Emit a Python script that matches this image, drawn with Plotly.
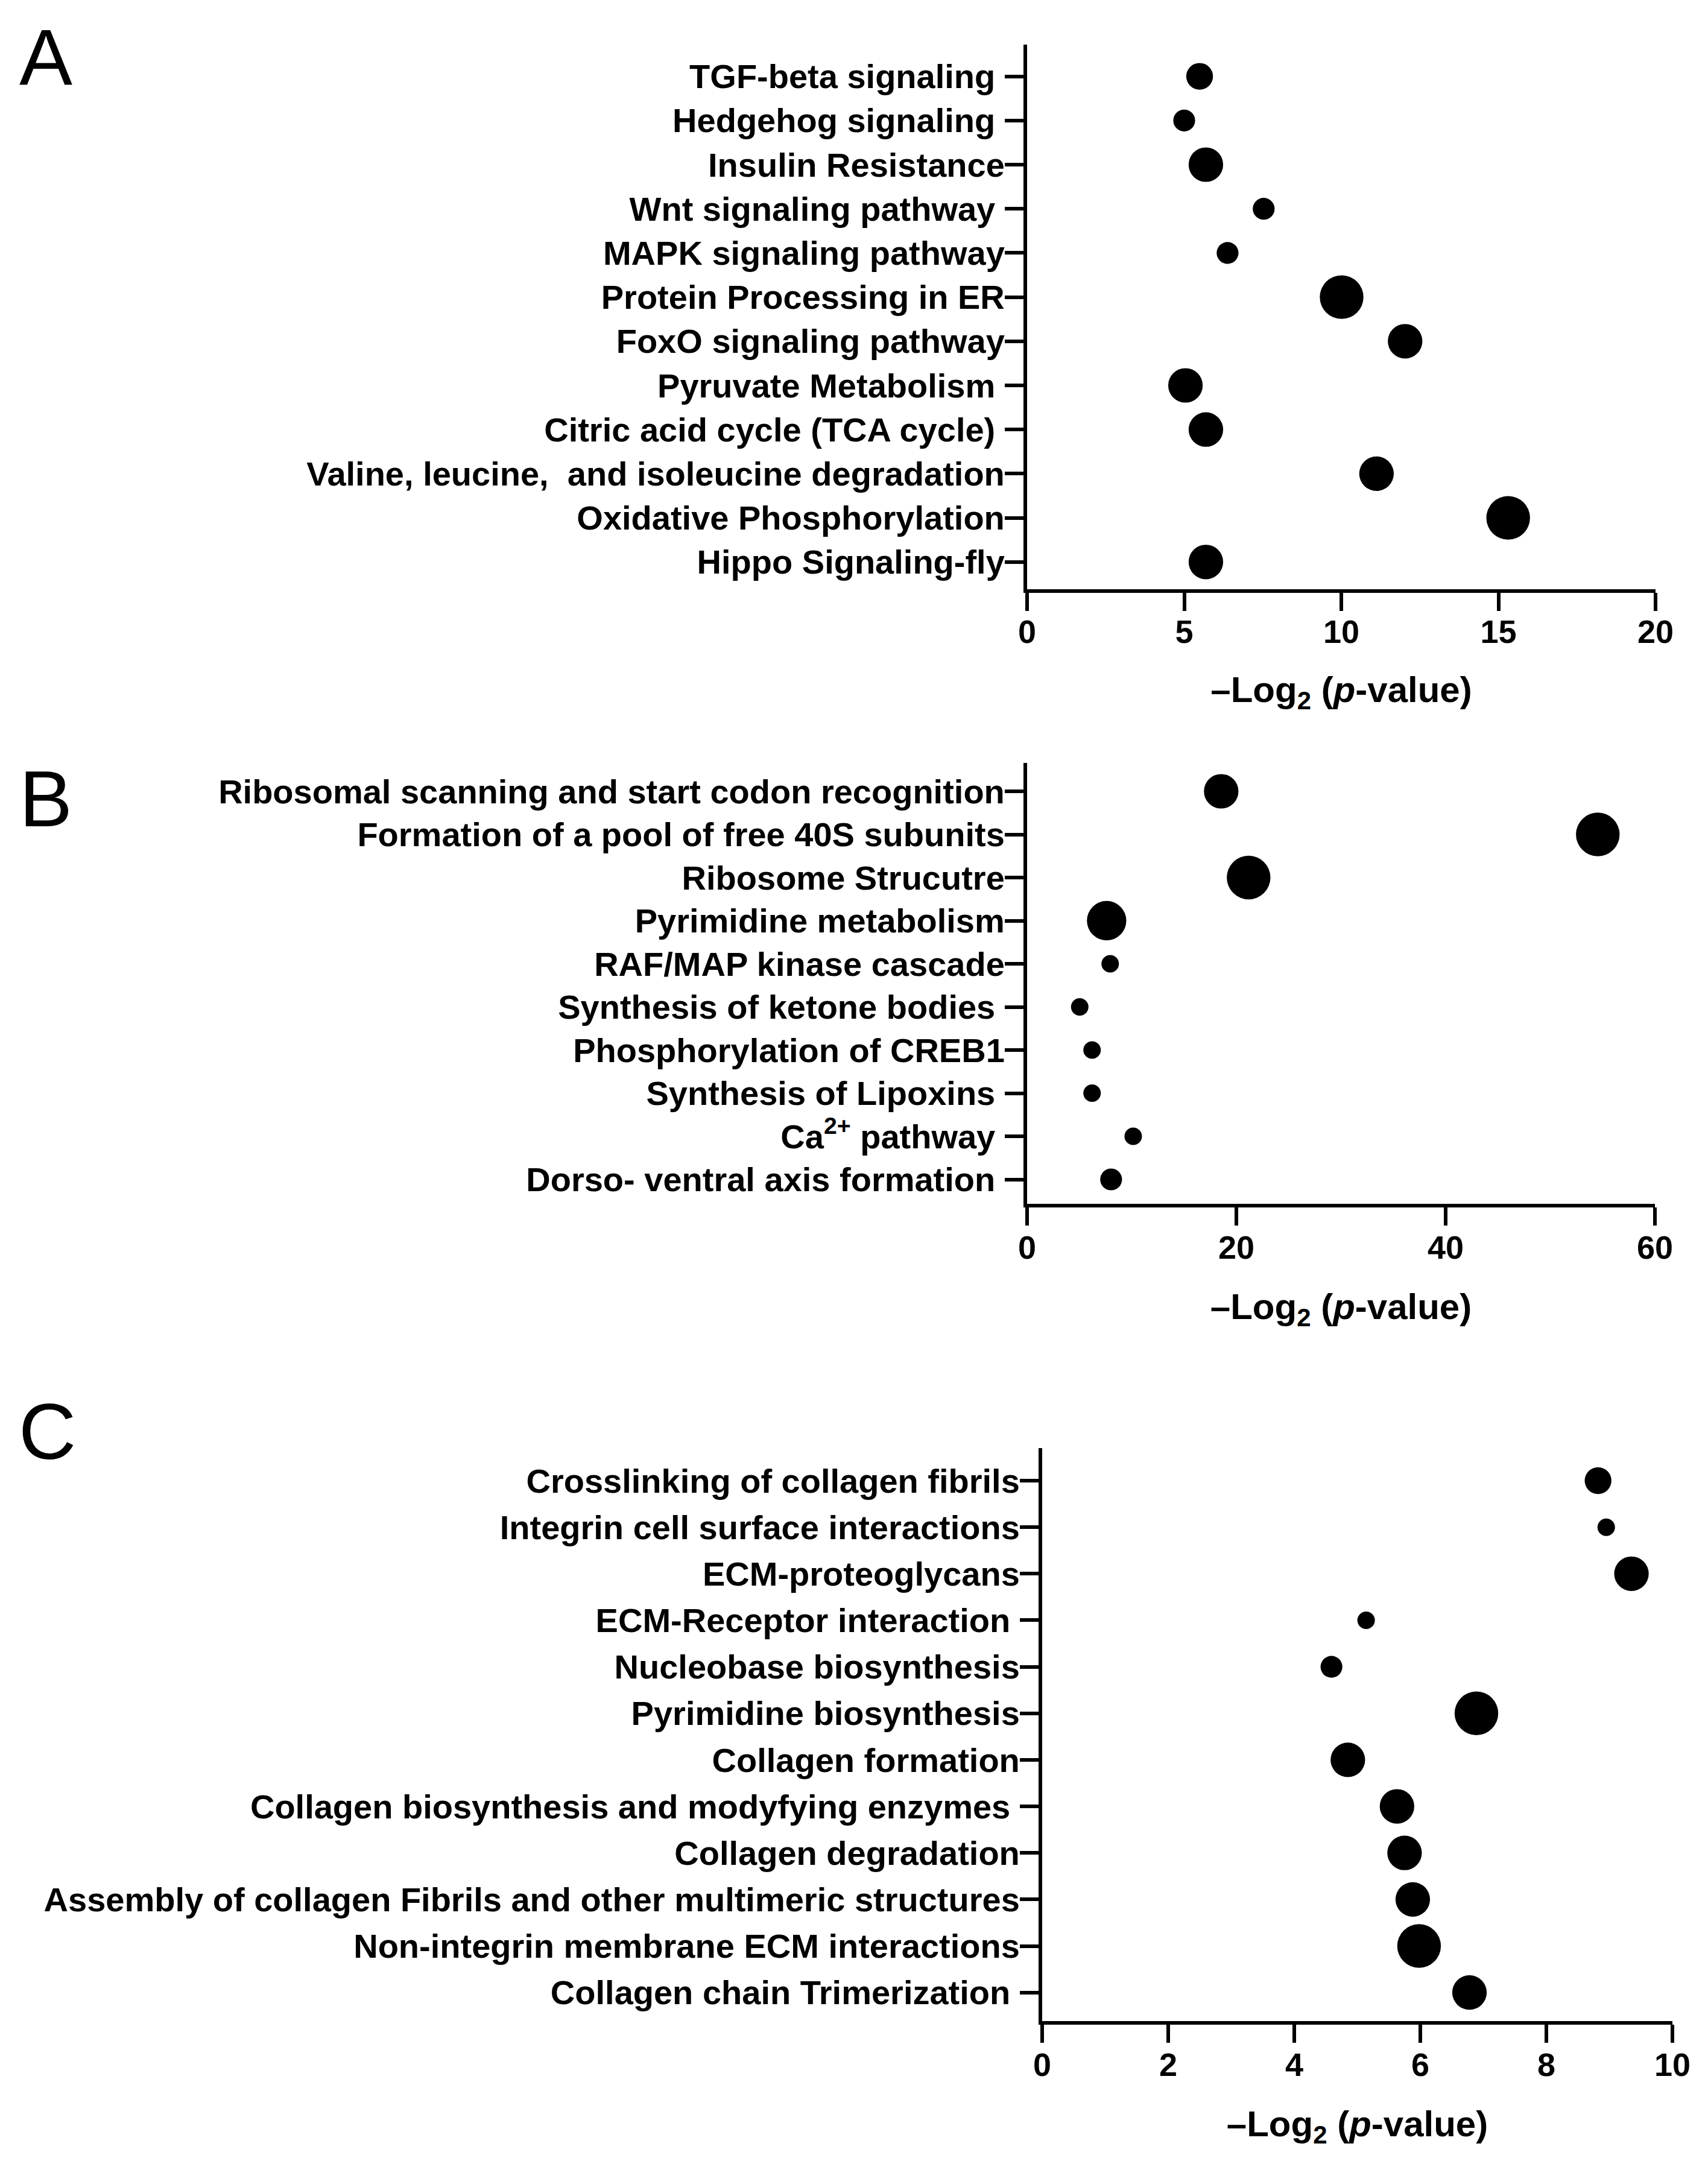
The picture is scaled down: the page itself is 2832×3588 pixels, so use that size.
import numpy as np
import plotly.graph_objects as go

W, H = 2832, 3588

# ---------------- data ----------------
a_pathways = ["TGF-beta signaling\u00a0", "Hedgehog signaling\u00a0", "Insulin Resistance",
              "Wnt signaling pathway\u00a0", "MAPK signaling pathway", "Protein Processing in ER",
              "FoxO signaling pathway", "Pyruvate Metabolism\u00a0", "Citric acid cycle (TCA cycle)\u00a0",
              "Valine, leucine,\u00a0 and isoleucine degradation", "Oxidative Phosphorylation",
              "Hippo Signaling-fly"]
a_values = [5.49, 5.00, 5.69, 7.53, 6.38, 10.01, 12.03, 5.04, 5.69, 11.12, 15.31, 5.69]
a_counts = [3, 2, 5, 2, 2, 8, 5, 5, 5, 5, 8, 5]

b_pathways = ["Ribosomal scanning and start codon recognition", "Formation of a pool of free 40S subunits",
              "Ribosome Strucutre", "Pyrimidine metabolism", "RAF/MAP kinase cascade",
              "Synthesis of ketone bodies\u00a0", "Phosphorylation of CREB1", "Synthesis of Lipoxins\u00a0",
              "Ca<sup>2+</sup> pathway\u00a0", "Dorso- ventral axis formation\u00a0"]
b_values = [18.55, 54.54, 21.17, 7.60, 7.94, 5.03, 6.21, 6.21, 10.14, 8.03]
b_counts = [5, 8, 8, 6.5, 1, 1, 1, 1, 1, 2]

c_pathways = ["Crosslinking of collagen fibrils", "Integrin cell surface interactions", "ECM-proteoglycans",
              "ECM-Receptor interaction\u00a0", "Nucleobase biosynthesis", "Pyrimidine biosynthesis",
              "Collagen formation", "Collagen biosynthesis and modyfying enzymes\u00a0",
              "Collagen degradation", "Assembly of collagen Fibrils and other multimeric structures",
              "Non-integrin membrane ECM interactions", "Collagen chain Trimerization\u00a0"]
c_values = [8.82, 8.95, 9.35, 5.14, 4.59, 6.89, 4.85, 5.63, 5.75, 5.88, 5.98, 6.78]
c_counts = [3, 1, 5, 1, 2, 8, 5, 5, 5, 5, 8, 5]

x_ranges = [[0, 20], [0, 60], [0, 10]]
x_dticks = [5, 20, 2]
panel_letters = ["A", "B", "C"]
x_title = "\u2013Log<sub>2</sub> (<i>p</i>-value)"

# ---------------- layout geometry (pixels, page coordinates) ----------------
PAGE_MARGIN = 8  # default body margin of the html page
# x_left, x_right, y_top, x-axis line y, first tick y, tick spacing
geom = [
    (1703, 2745, 74, 980, 126.6, 73.2),
    (1703, 2744, 1265, 1999, 1312.0, 71.5),
    (1728, 2773, 2401, 3354, 2455.0, 77.15),
]
letter_pos = [(76, 96), (76, 1325), (78, 2373)]

FONT = "Liberation Sans, Arial, Helvetica, sans-serif"

fig = go.Figure()
panels = [(a_pathways, a_values, a_counts), (b_pathways, b_values, b_counts), (c_pathways, c_values, c_counts)]

for i, (cats, vals, cnts) in enumerate(panels):
    k = "" if i == 0 else str(i + 1)
    diam = np.maximum(29, 25.6 * np.sqrt(np.array(cnts, dtype=float)))
    fig.add_trace(go.Scatter(
        x=vals, y=cats, mode="markers",
        marker=dict(size=diam, color="black", opacity=1, line=dict(width=0)),
        xaxis="x" + k, yaxis="y" + k, showlegend=False, cliponaxis=False,
    ))
    xl, xr, yt, yb, y0, sp = [v - PAGE_MARGIN for v in geom[i][:5]] + [geom[i][5]]
    yb_dom = yb - 3  # axis line is drawn half a line width outside the domain
    n = len(cats)
    ytop_val = -(y0 - yt) / sp
    ybot_val = (n - 1) + (yb_dom - (y0 + sp * (n - 1))) / sp
    axis_common = dict(showline=True, linewidth=6, linecolor="black", ticks="outside",
                       tickwidth=6, tickcolor="black", showgrid=False, zeroline=False,
                       automargin=False)
    fig.layout["xaxis" + k] = dict(
        domain=[xl / W, xr / W], anchor="y" + k, range=x_ranges[i], dtick=x_dticks[i], tick0=0,
        ticklen=30, ticklabelstandoff=-12 if i == 0 else -10,
        tickfont=dict(family=FONT, size=54, color="black", weight="bold"),
        title=dict(text=x_title, font=dict(family=FONT, size=60, color="black", weight="bold"),
                   standoff=48 if i == 0 else 50),
        **axis_common)
    fig.layout["yaxis" + k] = dict(
        domain=[1 - yb_dom / H, 1 - yt / H], anchor="x" + k, type="category",
        categoryorder="array", categoryarray=cats, range=[ybot_val, ytop_val],
        ticklen=31, ticklabelstandoff=-11,
        tickfont=dict(family=FONT, size=56, color="black", weight="bold"),
        **axis_common)
    lx, ly = letter_pos[i]
    fig.add_annotation(text=panel_letters[i], x=(lx - PAGE_MARGIN) / W, y=1 - (ly - PAGE_MARGIN) / H,
                       xref="paper", yref="paper",
                       xanchor="center", yanchor="middle", showarrow=False,
                       font=dict(family=FONT, size=132, color="black"))

fig.update_layout(width=W, height=H, margin=dict(l=0, r=0, t=0, b=0, autoexpand=False),
                  paper_bgcolor="white", plot_bgcolor="white", font=dict(family=FONT, color="black"))

fig.write_html("out.html")
